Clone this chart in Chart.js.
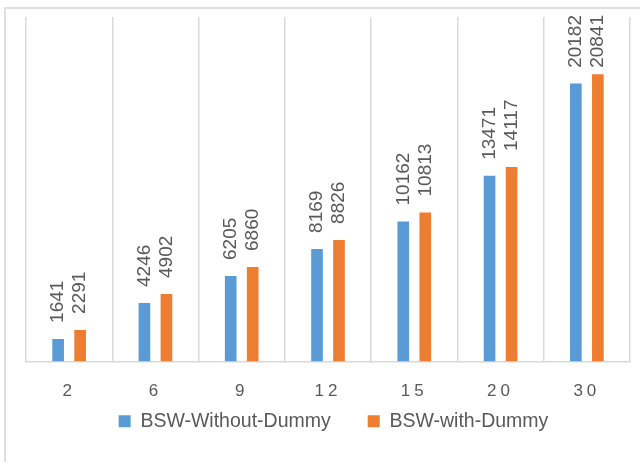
<!DOCTYPE html>
<html>
<head>
<meta charset="utf-8">
<script src="https://cdn.jsdelivr.net/npm/chart.js@4/dist/chart.umd.min.js"></script>
<style>
  html, body { margin: 0; padding: 0; background: #ffffff; overflow: hidden; }
  #wrap { position: relative; width: 640px; height: 462px; overflow: hidden; }
  #frame { position: absolute; left: 4px; top: 7px; width: 1000px; height: 1000px;
           border: 2px solid #E0E0E0; box-sizing: border-box; }
  #c { position: absolute; left: 0; top: 0; }
</style>
</head>
<body>
<div id="wrap">
  <div id="frame"></div>
  <canvas id="c" width="640" height="462"></canvas>
</div>
<script>
// Category labels (number of items) and the two measured series
const categories = ['2', '6', '9', '12', '15', '20', '30'];
const withoutDummy = [1641, 4246, 6205, 8169, 10162, 13471, 20182];
const withDummy = [2291, 4902, 6860, 8826, 10813, 14117, 20841];
const seriesNames = ['BSW-Without-Dummy', 'BSW-with-Dummy'];

const FONT = "'Liberation Sans', Arial, sans-serif";
const TEXT = '#595959';
const GRID = '#D9D9D9';

// Vertical value labels above each bar, kept inside the plot area
const barValueLabels = {
  id: 'barValueLabels',
  afterDatasetsDraw(chart) {
    const ctx = chart.ctx;
    const top = chart.chartArea.top;
    chart.data.datasets.forEach((ds, i) => {
      const meta = chart.getDatasetMeta(i);
      meta.data.forEach((bar, j) => {
        const text = String(ds.data[j]);
        ctx.save();
        ctx.font = '19px ' + FONT;
        const w = ctx.measureText(text).width;
        const start = Math.max(bar.y - 16, top - 2 + w);
        ctx.translate(bar.x, start);
        ctx.rotate(-Math.PI / 2);
        ctx.fillStyle = TEXT;
        ctx.textAlign = 'left';
        ctx.textBaseline = 'middle';
        ctx.fillText(text, 0, 0);
        ctx.restore();
      });
    });
  }
};

// Spaced-out digits on the category axis
const spacedTicks = {
  id: 'spacedTicks',
  beforeDraw(chart) {
    const s = chart.scales.x;
    if (s && !s._spacedPatched) {
      const orig = s.drawLabels;
      s.drawLabels = function (area) {
        const ctx = this.ctx;
        ctx.save();
        ctx.letterSpacing = '4px';
        orig.call(this, area);
        ctx.restore();
      };
      s._spacedPatched = true;
    }
  }
};

// Legend row sits a fixed distance under the axis labels
const legendRow = {
  id: 'legendRow',
  afterLayout(chart) {
    const lg = chart.legend;
    if (!lg) return;
    const h = lg.bottom - lg.top;
    lg.top = 411.5 - lg.options.labels.padding;
    lg.bottom = lg.top + h;
    lg.left += 5.5;
    lg.right += 5.5;
  }
};

new Chart(document.getElementById('c'), {
  type: 'bar',
  data: {
    labels: categories,
    datasets: [
      { label: seriesNames[0], data: withoutDummy, backgroundColor: '#5B9BD5',
        categoryPercentage: 0.51, barPercentage: 0.53 },
      { label: seriesNames[1], data: withDummy, backgroundColor: '#ED7D31',
        categoryPercentage: 0.51, barPercentage: 0.53 }
    ]
  },
  options: {
    responsive: false,
    animation: false,
    devicePixelRatio: 1,
    layout: { padding: { left: 26, right: 10, top: 17, bottom: -6 } },
    scales: {
      x: {
        offset: true,
        grid: { display: true, color: GRID, lineWidth: 1.5, drawTicks: false, offset: true },
        border: { display: true, color: GRID, width: 1.5 },
        ticks: { color: TEXT, font: { family: FONT, size: 17 }, padding: 20, maxRotation: 0 },
        afterFit(axis) { axis.height = 40; }
      },
      y: {
        display: false,
        min: 0,
        max: 25000
      }
    },
    plugins: {
      legend: {
        position: 'bottom',
        labels: {
          color: TEXT,
          font: { family: FONT, size: 19.5 },
          boxWidth: 12,
          boxHeight: 12,
          padding: 37
        }
      },
      tooltip: { enabled: false }
    }
  },
  plugins: [barValueLabels, spacedTicks, legendRow]
});
</script>
</body>
</html>
